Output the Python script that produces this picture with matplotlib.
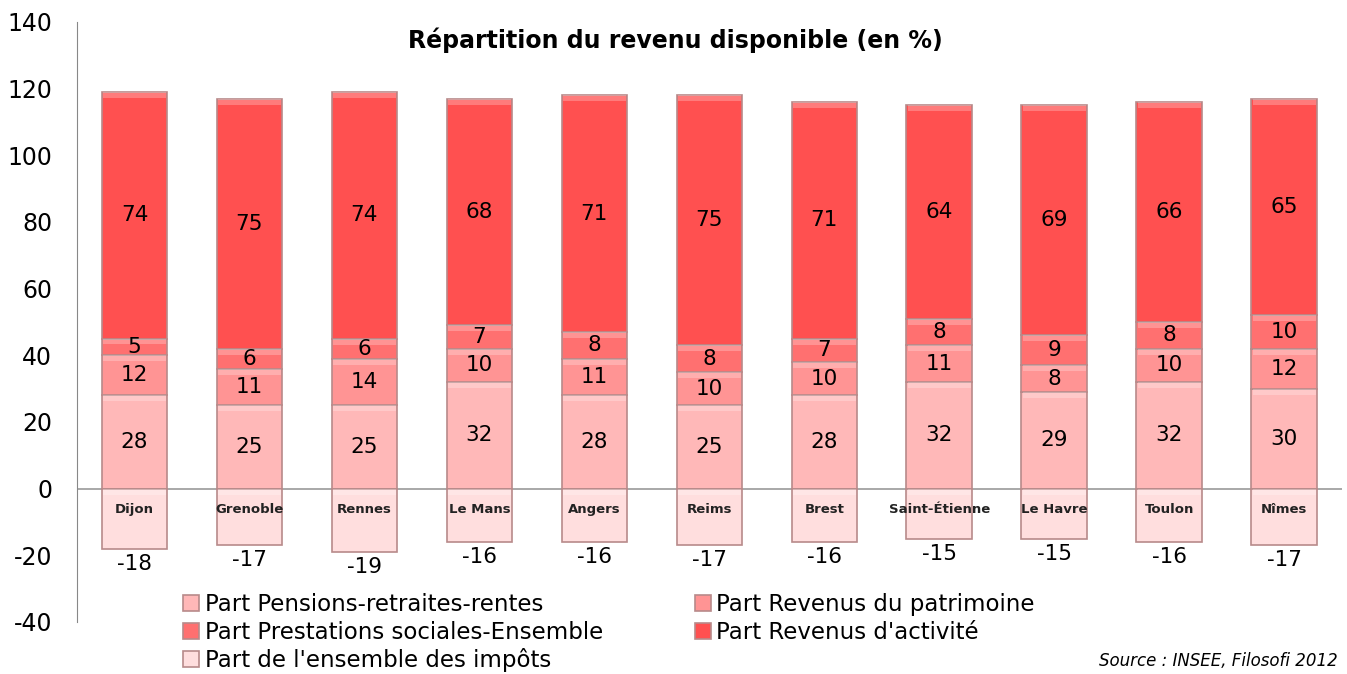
import matplotlib
matplotlib.use('Agg')
import matplotlib.pyplot as plt
import numpy as np

cities = ['Dijon', 'Grenoble', 'Rennes', 'Le Mans', 'Angers', 'Reims',
          'Brest', 'Saint-Étienne', 'Le Havre', 'Toulon', 'Nîmes']
pensions = [28, 25, 25, 32, 28, 25, 28, 32, 29, 32, 30]
patrimoine = [12, 11, 14, 10, 11, 10, 10, 11, 8, 10, 12]
prestations = [5, 6, 6, 7, 8, 8, 7, 8, 9, 8, 10]
activite = [74, 75, 74, 68, 71, 75, 71, 64, 69, 66, 65]
impots = [-18, -17, -19, -16, -16, -17, -16, -15, -15, -16, -17]

series = [
    ("Part Pensions-retraites-rentes", pensions, '#ffb8b8'),
    ("Part Revenus du patrimoine", patrimoine, '#ff9494'),
    ("Part Prestations sociales-Ensemble", prestations, '#ff7070'),
    ("Part Revenus d'activité", activite, '#ff5050'),
]

plt.rcParams['font.family'] = ['DejaVu Sans']
plt.rcParams['axes.unicode_minus'] = False

fig = plt.figure(figsize=(13.47, 6.74), dpi=100)
ax = fig.add_axes([0.0572, 0.0772, 0.9388, 0.8902])

x = np.arange(len(cities))
width = 0.57
edge = '#b88a8a'


def bevel(xs, tops, heights):
    # lighter strip on the top of each segment, a bit like the Excel bevel
    h = np.minimum(1.8, np.abs(heights) * 0.3) * np.sign(heights)
    ax.bar(xs, -h, width * 0.96, bottom=tops, color='white', alpha=0.25,
           linewidth=0, zorder=4)


handles = {}
bottom = np.zeros(len(cities))
for label, vals, color in series:
    vals = np.array(vals, dtype=float)
    bars = ax.bar(x, vals, width, bottom=bottom, color=color,
                  edgecolor=edge, linewidth=1.2, label=label, zorder=3)
    handles[label] = bars
    bevel(x, bottom + vals, vals)
    for xi, b, v in zip(x, bottom, vals):
        ax.text(xi, b + v / 2, f'{int(v)}', ha='center', va='center',
                fontsize=15.5, zorder=5)
    bottom += vals

imp = ax.bar(x, impots, width, color='#ffdede', edgecolor=edge,
             linewidth=1.2, label="Part de l'ensemble des impôts", zorder=3)
handles["Part de l'ensemble des impôts"] = imp
bevel(x, np.zeros(len(cities)), -np.array(impots, dtype=float))
for xi, v, name in zip(x, impots, cities):
    ax.text(xi, v - 4.5, f'{v}', ha='center', va='center', fontsize=15.5)
    ax.text(xi, -6.3, name, ha='center', va='center', fontsize=9.5,
            fontweight='bold', color='#222222', zorder=5)

ax.axhline(0, color='#999999', linewidth=1.2, zorder=2)

ax.set_xlim(-0.5, len(cities) - 0.5)
ax.set_ylim(-40, 140)
ax.set_yticks(range(-40, 141, 20))
ax.tick_params(axis='y', length=0, labelsize=17, pad=18)
ax.set_xticks([])
for side in ['top', 'right', 'bottom']:
    ax.spines[side].set_visible(False)
ax.spines['left'].set_color('#888888')

fig.text(675 / 1347, 1 - 40 / 674, 'Répartition du revenu disponible (en %)',
         ha='center', va='center', fontsize=17, fontweight='bold')

order = ["Part Pensions-retraites-rentes", "Part Prestations sociales-Ensemble",
         "Part de l'ensemble des impôts", "Part Revenus du patrimoine",
         "Part Revenus d'activité"]
fig.legend([handles[k] for k in order], order, ncol=2, frameon=False,
           loc='upper left', bbox_to_anchor=(183 / 1347, 1 - 593 / 674),
           fontsize=16.5, handlelength=0.7, handleheight=0.7, handletextpad=0.25,
           labelspacing=0.2, columnspacing=4.0, borderpad=0, borderaxespad=0)

fig.text(1338 / 1347, 1 - 652 / 674, 'Source : INSEE, Filosofi 2012',
         ha='right', va='top', fontsize=12, style='italic')

fig.savefig('out.png', dpi=100)
